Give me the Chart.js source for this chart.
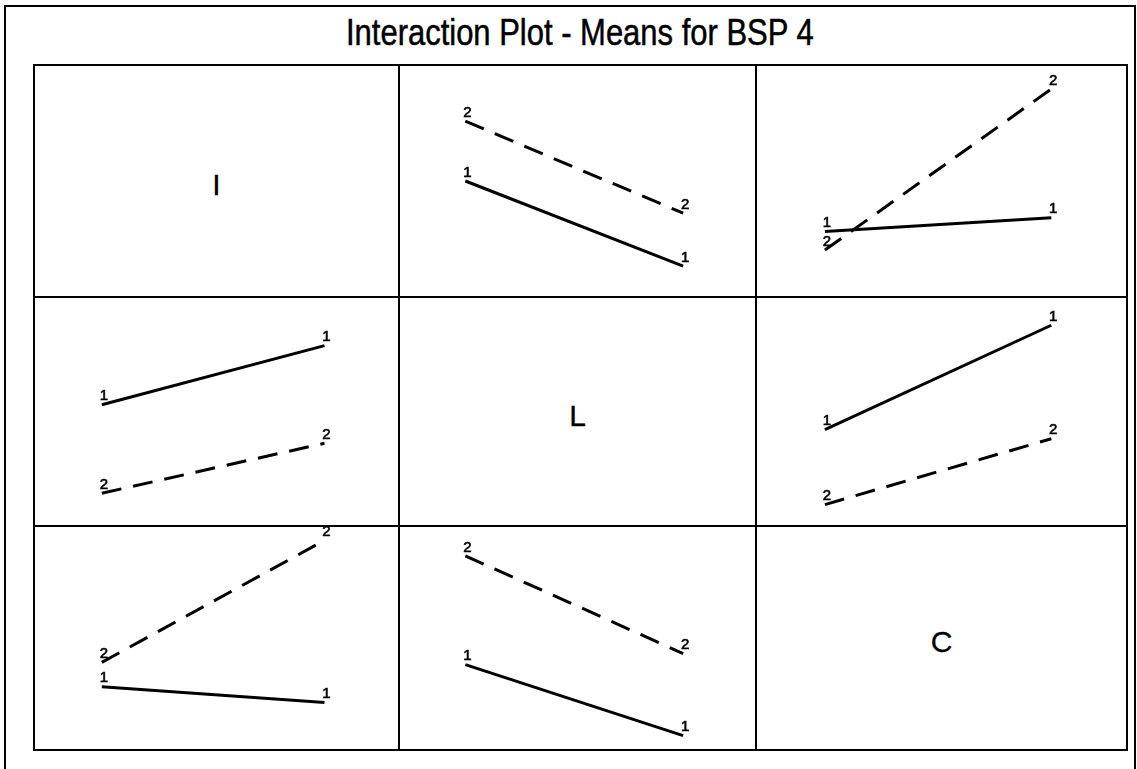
<!DOCTYPE html>
<html>
<head>
<meta charset="utf-8">
<script src="https://cdn.jsdelivr.net/npm/chart.js@4/dist/chart.umd.min.js"></script>
<style>
  body { margin: 0; background: #fff; width: 1137px; height: 769px; overflow: hidden; position: relative; }
  #frame { position: absolute; left: 4px; top: 5px; width: 1128px; height: 800px; border: 2px solid #000; border-bottom: none; }
  #title { position: absolute; left: 8px; top: 6px; width: 1132px; text-align: center; white-space: nowrap;
           font-family: "Liberation Sans", Arial, sans-serif; font-size: 36px; color: #000; line-height: 40px;
           -webkit-text-stroke: 0.5px #000; }
  #title span { display: inline-block; transform-origin: center; }
  #grid { position: absolute; left: 33px; top: 64px; width: 1091px; height: 683px; border: 2px solid #000;
          background: #000; display: grid; grid-template-columns: 363px 355px 369px; grid-template-rows: 230px 227px 222px; gap: 2px; }
  .cell { background: #fff; position: relative; }
  .cell canvas { position: absolute; left: 0; top: 0; }
  .factor { position: absolute; left: 0; top: 0; width: 100%; height: 100%; box-sizing: border-box; padding-top: 8px;
            display: flex; align-items: center; justify-content: center;
            font-family: "Liberation Sans", Arial, sans-serif; font-size: 30px; color: #000; -webkit-text-stroke: 0.3px #000; }
</style>
</head>
<body>
<div id="frame">
  <div id="title"><span>Interaction Plot - Means for BSP 4</span></div>
</div>
<div id="grid"></div>
<script>
// factors on the diagonal, levels along each x axis
const factors = ['I', 'L', 'C'];
const levels = [1, 2];

// cell means: [row factor level 1 line, row factor level 2 line], each over column factor levels 1..2
const meansIL = [[50, 13], [76, 36]];
const meansIC = [[28, 34], [20, 90]];
const meansLI = [[53, 79], [14, 36]];
const meansLC = [[42, 88], [9, 38]];
const meansCI = [[28, 21], [39, 94]];
const meansCL = [[38, 6], [87, 43]];

const cellMeans = {
  'I-L': meansIL, 'I-C': meansIC,
  'L-I': meansLI, 'L-C': meansLC,
  'C-I': meansCI, 'C-L': meansCL
};

// squeeze the title to the narrow face
const titleSpan = document.querySelector('#title span');
titleSpan.style.transform = 'scaleX(' + (468 / titleSpan.offsetWidth) + ')';

// writes the level number at each end of a line
const endLabels = {
  id: 'endLabels',
  afterDatasetsDraw(chart) {
    const ctx = chart.ctx;
    ctx.save();
    ctx.fillStyle = '#000';
    ctx.strokeStyle = '#000';
    ctx.lineWidth = 0.6;
    ctx.font = '15px "Liberation Sans", Arial, sans-serif';
    ctx.textAlign = 'center';
    ctx.textBaseline = 'bottom';
    chart.data.datasets.forEach((ds, i) => {
      chart.getDatasetMeta(i).data.forEach(pt => {
        ctx.fillText(ds.label, pt.x + 2, pt.y - 1);
        ctx.strokeText(ds.label, pt.x + 2, pt.y - 1);
      });
    });
    ctx.restore();
  }
};

const grid = document.getElementById('grid');

factors.forEach(rowF => {
  factors.forEach(colF => {
    const cell = document.createElement('div');
    cell.className = 'cell';
    grid.appendChild(cell);

    if (rowF === colF) {
      const lab = document.createElement('div');
      lab.className = 'factor';
      lab.textContent = rowF;
      cell.appendChild(lab);
      return;
    }

    const canvas = document.createElement('canvas');
    canvas.width = cell.clientWidth;
    canvas.height = cell.clientHeight;
    cell.appendChild(canvas);

    const means = cellMeans[rowF + '-' + colF];

    new Chart(canvas, {
      type: 'line',
      data: {
        datasets: means.map((ys, i) => ({
          label: String(levels[i]),
          data: levels.map((x, j) => ({ x: x, y: ys[j] })),
          borderColor: '#000',
          borderWidth: 3,
          borderDash: i === 0 ? [] : [20, 12],
          borderCapStyle: 'butt',
          pointRadius: 0,
          fill: false
        }))
      },
      options: {
        responsive: false,
        animation: false,
        layout: { padding: 0 },
        plugins: { legend: { display: false }, tooltip: { enabled: false } },
        scales: {
          x: { type: 'linear', display: false, min: 0.7, max: 2.33 },
          y: { display: false, min: 0, max: 100 }
        }
      },
      plugins: [endLabels]
    });
  });
});
</script>
</body>
</html>
